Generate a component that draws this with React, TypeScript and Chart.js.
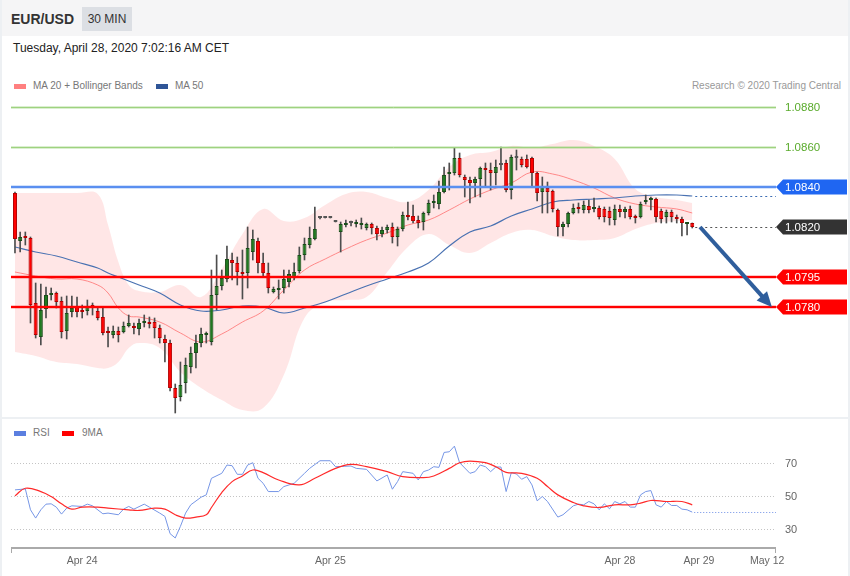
import React, { useEffect, useRef } from 'react';
import { Chart, registerables } from 'chart.js';

Chart.register(...registerables);

const FONT = 'Arial, "Liberation Sans", Helvetica, sans-serif';

// ---- 30-minute candles (EUR/USD) ----
const candleOpen = [
  1.0837, 1.0813, 1.08155, 1.08145, 1.0782, 1.0765, 1.0779, 1.0786, 1.0787, 1.0783,
  1.0768, 1.07775, 1.078, 1.0778, 1.0778, 1.0781, 1.0778, 1.0775, 1.07675, 1.0766,
  1.0768, 1.07675, 1.07705, 1.077, 1.0769, 1.0772, 1.0772, 1.07725, 1.07695, 1.0764,
  1.0762, 1.07395, 1.0735, 1.0742, 1.075, 1.0757, 1.0762, 1.0766, 1.07625, 1.0786,
  1.07905, 1.0794, 1.08035, 1.0802, 1.0797, 1.0797, 1.08075, 1.0813, 1.0802, 1.0797,
  1.07875, 1.07885, 1.07895, 1.07925, 1.0795, 1.0798, 1.0806, 1.0811, 1.0814, 1.08245,
  1.08245, 1.08245, 1.08225, 1.08175, 1.0821, 1.0822, 1.08215, 1.0821, 1.08195, 1.08215,
  1.08195, 1.08165, 1.08185, 1.082, 1.0815, 1.0819, 1.08255, 1.08255, 1.08235, 1.08225,
  1.0827, 1.0832, 1.08315, 1.08375, 1.08465, 1.0847, 1.08545, 1.0845, 1.08435, 1.0842,
  1.0844, 1.0849, 1.08485, 1.0847, 1.0851, 1.0852, 1.08385, 1.08545, 1.0854, 1.0854,
  1.08545, 1.0847, 1.08375, 1.08395, 1.0838, 1.08285, 1.082, 1.08215, 1.0827, 1.08295,
  1.08285, 1.08305, 1.0829, 1.08295, 1.0829, 1.0828, 1.08235, 1.0829, 1.08275, 1.0829,
  1.0825, 1.0825, 1.08325, 1.08335, 1.0834, 1.0828, 1.0825, 1.08275, 1.0825, 1.0824,
  1.08215, 1.0822,
];
const candleHigh = [
  1.08375, 1.08175, 1.08175, 1.0815, 1.0792, 1.07915, 1.079, 1.07895, 1.07875, 1.0785,
  1.07855, 1.07855, 1.0785, 1.0781, 1.07835, 1.0782, 1.078, 1.07795, 1.077, 1.07705,
  1.077, 1.07725, 1.0776, 1.0772, 1.0774, 1.0776, 1.0775, 1.07745, 1.0771, 1.0766,
  1.07635, 1.07415, 1.07525, 1.07545, 1.076, 1.0766, 1.07695, 1.07675, 1.07985, 1.0806,
  1.07985, 1.08105, 1.0807, 1.0805, 1.08085, 1.082, 1.08185, 1.08145, 1.0807, 1.0802,
  1.079, 1.07935, 1.07985, 1.07985, 1.0802, 1.081, 1.08145, 1.082, 1.083, 1.0825,
  1.08245, 1.08245, 1.08225, 1.08225, 1.08235, 1.0823, 1.08235, 1.08245, 1.0822, 1.0822,
  1.08205, 1.082, 1.0821, 1.0822, 1.082, 1.08275, 1.08325, 1.0831, 1.08255, 1.08275,
  1.08335, 1.0836, 1.0843, 1.085, 1.0852, 1.08595, 1.0857, 1.0846, 1.0845, 1.0845,
  1.085, 1.0852, 1.0852, 1.08535, 1.086, 1.08535, 1.0856, 1.08585, 1.0855, 1.0856,
  1.0855, 1.08475, 1.0845, 1.08425, 1.08385, 1.0829, 1.08225, 1.08275, 1.08315, 1.0832,
  1.0833, 1.08335, 1.08345, 1.08305, 1.083, 1.083, 1.0831, 1.0831, 1.083, 1.08305,
  1.0826, 1.08325, 1.0836, 1.0835, 1.08345, 1.0829, 1.08285, 1.08285, 1.0826, 1.0825,
  1.0822, 1.0822,
];
const candleLow = [
  1.0807, 1.08075, 1.0811, 1.0772, 1.07645, 1.0761, 1.07745, 1.07835, 1.07795, 1.07645,
  1.0764, 1.0775, 1.0775, 1.07745, 1.0776, 1.0776, 1.07735, 1.0766, 1.076, 1.07645,
  1.07625, 1.0767, 1.077, 1.07665, 1.0766, 1.077, 1.07695, 1.07645, 1.0762, 1.07525,
  1.0738, 1.0727, 1.0733, 1.0737, 1.0747, 1.07495, 1.076, 1.0762, 1.0761, 1.07785,
  1.07885, 1.07925, 1.07935, 1.0791, 1.0784, 1.07895, 1.08035, 1.0797, 1.0795, 1.0787,
  1.0787, 1.0784, 1.0787, 1.079, 1.07935, 1.0797, 1.08035, 1.08095, 1.08135, 1.0824,
  1.08245, 1.08245, 1.08225, 1.08075, 1.082, 1.08205, 1.082, 1.0819, 1.08185, 1.08165,
  1.08135, 1.0815, 1.0817, 1.0812, 1.08105, 1.0818, 1.08235, 1.0822, 1.08195, 1.08185,
  1.0826, 1.08295, 1.0829, 1.0837, 1.08385, 1.0846, 1.0845, 1.0835, 1.0832, 1.0835,
  1.0835, 1.084, 1.08385, 1.0841, 1.08485, 1.08375, 1.0834, 1.08485, 1.085, 1.08495,
  1.084, 1.0833, 1.0827, 1.0827, 1.08275, 1.08155, 1.08155, 1.082, 1.08265, 1.0827,
  1.0827, 1.0827, 1.08275, 1.0824, 1.08225, 1.0821, 1.0821, 1.0825, 1.08245, 1.0824,
  1.0822, 1.08245, 1.08315, 1.08285, 1.08225, 1.0822, 1.0822, 1.08225, 1.0822, 1.08155,
  1.0816, 1.08195,
];
const candleClose = [
  1.0814, 1.0815, 1.08145, 1.0781, 1.0766, 1.07785, 1.0786, 1.0787, 1.07825, 1.07675,
  1.0777, 1.07795, 1.07775, 1.07775, 1.07805, 1.07795, 1.07745, 1.0767, 1.0767, 1.0768,
  1.0766, 1.07705, 1.0772, 1.07695, 1.0772, 1.0773, 1.07715, 1.07695, 1.07645, 1.0762,
  1.07395, 1.07345, 1.0741, 1.0751, 1.0757, 1.0762, 1.07665, 1.0767, 1.0786, 1.07905,
  1.07945, 1.0804, 1.0802, 1.07975, 1.07965, 1.08095, 1.0814, 1.0802, 1.0797, 1.07895,
  1.0789, 1.07895, 1.0794, 1.07965, 1.07975, 1.0806, 1.08115, 1.08145, 1.0819, 1.08245,
  1.08245, 1.08245, 1.08225, 1.08215, 1.08215, 1.0822, 1.0822, 1.08215, 1.08215, 1.08195,
  1.08165, 1.08185, 1.082, 1.0815, 1.0819, 1.0826, 1.0825, 1.0823, 1.0822, 1.0827,
  1.0832, 1.08325, 1.08375, 1.0846, 1.0847, 1.08545, 1.0846, 1.08435, 1.0842, 1.0844,
  1.08495, 1.08485, 1.0847, 1.085, 1.0851, 1.08385, 1.0855, 1.08545, 1.0851, 1.085,
  1.0847, 1.0837, 1.084, 1.08375, 1.0829, 1.082, 1.08215, 1.0827, 1.08295, 1.0829,
  1.0831, 1.08285, 1.083, 1.0825, 1.0825, 1.08245, 1.0829, 1.08275, 1.0829, 1.0825,
  1.08245, 1.08315, 1.0833, 1.08345, 1.0825, 1.0824, 1.08275, 1.0825, 1.0824, 1.0822,
  1.0822, 1.082,
];

// ---- overlays (sampled at candle indices) ----
const bandIdx = [0, 4, 8, 12, 16, 18, 20, 22, 24, 28, 32, 36, 40, 44, 48, 52, 56, 60, 64, 68, 72, 76, 80, 84, 88, 92, 96, 100, 104, 108, 112, 116, 120, 124, 128, 131];
const bbUpper = [1.0837, 1.0837, 1.0837, 1.0837, 1.08365, 1.0821, 1.08025, 1.0791, 1.0788, 1.07875, 1.0791, 1.0785, 1.0799, 1.08165, 1.0829, 1.0823, 1.08245, 1.0831, 1.08365, 1.08375, 1.08345, 1.08325, 1.08385, 1.085, 1.0856, 1.08575, 1.08605, 1.08595, 1.08615, 1.08635, 1.08605, 1.0854, 1.0839, 1.0835, 1.08335, 1.0832];
const bbLower = [1.07575, 1.07555, 1.07525, 1.07515, 1.07495, 1.07495, 1.07525, 1.07595, 1.0762, 1.07595, 1.07475, 1.07395, 1.07335, 1.07285, 1.07295, 1.0746, 1.07745, 1.07825, 1.07835, 1.0785, 1.07975, 1.081, 1.08165, 1.0811, 1.0807, 1.0812, 1.0817, 1.08185, 1.08155, 1.08135, 1.08135, 1.08145, 1.0819, 1.0822, 1.0823, 1.08235];
const ma20Value = [1.07975, 1.07955, 1.0794, 1.0794, 1.0791, 1.0787, 1.07795, 1.07755, 1.0775, 1.07725, 1.0767, 1.07625, 1.07665, 1.07725, 1.0778, 1.07885, 1.07985, 1.0804, 1.0809, 1.08135, 1.0817, 1.0821, 1.08235, 1.08285, 1.0834, 1.08385, 1.0842, 1.08475, 1.08465, 1.08435, 1.08395, 1.08345, 1.08315, 1.083, 1.0829, 1.0827];
const ma50Value = [1.081, 1.08075, 1.08055, 1.08025, 1.07995, 1.0797, 1.0795, 1.0793, 1.0791, 1.0787, 1.0781, 1.0778, 1.07785, 1.07805, 1.078, 1.0777, 1.07795, 1.07825, 1.07865, 1.07905, 1.0794, 1.07975, 1.0802, 1.08105, 1.08175, 1.08205, 1.08255, 1.0829, 1.08325, 1.08335, 1.0834, 1.08345, 1.08355, 1.0836, 1.0836, 1.08355];

// ---- key levels ----
const resistanceLevels = [1.088, 1.086];
const pivotLevel = 1.084;
const supportLevels = [1.0795, 1.078];
const arrowFrom = [132.5, 1.082];
const arrowTo = [146.4, 1.078];

// ---- RSI panel ----
const rsiIdx = [0, 2, 3, 4, 5, 6, 7, 8, 9, 10, 11, 13, 14, 15, 17, 18, 20, 21, 22, 23, 25, 26, 28, 29, 30, 31, 32, 33, 34, 36, 37, 38, 40, 41, 42, 43, 44, 45, 46, 47, 48, 49, 51, 52, 54, 56, 57, 59, 61, 62, 65, 66, 68, 70, 72, 73, 74, 75, 77, 78, 79, 80, 81, 82, 83, 84, 85, 86, 88, 89, 90, 91, 92, 93, 94, 95, 96, 97, 98, 99, 100, 101, 102, 103, 105, 106, 108, 109, 110, 111, 112, 113, 114, 115, 116, 117, 118, 119, 120, 121, 122, 123, 124, 125, 126, 127, 128, 129, 130, 131];
const rsiValue = [53.6, 54.2, 41.6, 36.6, 41.6, 45, 45.2, 43.2, 39, 42.6, 44, 43.6, 45, 44, 39.2, 39.6, 38.6, 42, 43.6, 42, 45, 43.2, 39.6, 37.6, 27.2, 24.6, 31.6, 39.6, 44.6, 49.2, 50.6, 60.6, 63.6, 68.6, 68.2, 63, 63, 68.6, 70, 60.6, 57.6, 52.6, 52.6, 55.6, 57.6, 63.6, 66.6, 71.2, 71.2, 67.6, 68, 66.6, 66, 59, 62.6, 54, 58.6, 64.6, 63.6, 59.6, 64.6, 65.6, 67.6, 67.2, 76.2, 76.6, 80, 70, 63.6, 64.6, 68.6, 67.6, 64.6, 67.4, 67.4, 52.6, 64, 63.2, 60, 61.6, 56.6, 47, 49.6, 46.6, 37.2, 38.6, 44, 45, 44.6, 46.6, 45.2, 41.6, 45.2, 42.2, 46.6, 45.2, 46.6, 43.2, 43.2, 50.6, 52.6, 53.2, 44.6, 43.2, 46.6, 44.2, 44.2, 42, 41.6, 40.2];
const maIdx = [0, 2, 5, 7, 9, 11, 13, 16, 18, 22, 24, 27, 29, 31, 33, 35, 37, 38, 40, 42, 44, 46, 48, 51, 55, 58, 62, 65, 68, 72, 75, 79, 81, 84, 86, 88, 91, 93, 95, 98, 101, 103, 105, 108, 110, 113, 116, 119, 121, 123, 126, 129, 131];
const maValue = [50, 54.6, 52.6, 49.6, 45.2, 42, 43.2, 43.2, 42.6, 41.6, 41.2, 42.6, 42, 38.6, 36.6, 37.2, 38.6, 43, 52, 58.6, 62, 65.6, 64, 59.6, 56.6, 60.6, 66.6, 69, 67.6, 64.6, 61.6, 61, 62, 66.6, 70, 71, 70, 67.6, 64.2, 63.6, 60.6, 55.6, 50.6, 46, 44, 43, 44.6, 44.6, 45.6, 47.2, 46.6, 46.6, 44.6];
const rsiLevels = [70, 50, 30];

// ---- time axis ----
const dateTickIdx = [13, 61, 117, 132.3, 145.5];
const dateTickLabels = ['Apr 24', 'Apr 25', 'Apr 28', 'Apr 29', 'May 12'];

// axis ranges
const X_MIN = -0.77;
const X_MAX = 147.2;
const PRICE_MIN = 1.0725;
const PRICE_MAX = 1.0885;
const RSI_MIN = 18.55;
const RSI_MAX = 83.7;

const RED = '#ff0000';
const GREEN = '#1f7a1f';

function hLine(ctx: CanvasRenderingContext2D, x1: number, x2: number, y: number, color: string, width: number, dash?: number[]) {
  ctx.save();
  ctx.beginPath();
  ctx.strokeStyle = color;
  ctx.lineWidth = width;
  if (dash) ctx.setLineDash(dash);
  const yy = width % 2 === 1 ? Math.round(y) + 0.5 : Math.round(y);
  ctx.moveTo(x1, yy);
  ctx.lineTo(x2, yy);
  ctx.stroke();
  ctx.restore();
}

function tag(ctx: CanvasRenderingContext2D, x: number, y: number, color: string, text: string) {
  const w = 71;
  const h = 15;
  ctx.save();
  ctx.fillStyle = color;
  ctx.beginPath();
  ctx.moveTo(x, y);
  ctx.lineTo(x + 7, y - h / 2);
  ctx.lineTo(x + w, y - h / 2);
  ctx.lineTo(x + w, y + h / 2);
  ctx.lineTo(x + 7, y + h / 2);
  ctx.closePath();
  ctx.fill();
  ctx.fillStyle = '#ffffff';
  ctx.font = `11.5px ${FONT}`;
  ctx.textBaseline = 'middle';
  ctx.textAlign = 'left';
  ctx.fillText(text, x + 9, y + 1);
  ctx.restore();
}

const mainOverlay = {
  id: 'mainOverlay',
  afterDatasetsDraw(chart: any) {
    const { ctx, chartArea: a } = chart;
    const xs = chart.scales.x;
    const ys = chart.scales.y;
    resistanceLevels.forEach((v) => {
      const ry = ys.getPixelForValue(v);
      hLine(ctx, a.left, a.right, ry, 'rgba(150,210,120,0.35)', 3);
      hLine(ctx, a.left, a.right, ry, '#9fd27f', 1);
    });
    const py = ys.getPixelForValue(pivotLevel);
    hLine(ctx, a.left, a.right, py, 'rgba(80,140,240,0.25)', 4);
    hLine(ctx, a.left, a.right, py, '#5a8ff0', 2);
    supportLevels.forEach((v) => {
      const sy = ys.getPixelForValue(v);
      hLine(ctx, a.left, a.right, sy, 'rgba(255,0,0,0.22)', 4);
      hLine(ctx, a.left, a.right, sy, RED, 2);
    });
    const N = candleClose.length;
    const xLast = xs.getPixelForValue(N - 1);
    hLine(ctx, xLast + 3, a.right, ys.getPixelForValue(ma50Value[ma50Value.length - 1]), '#3d6db3', 1, [2, 3]);
    hLine(ctx, xLast + 3, a.right, ys.getPixelForValue(candleClose[N - 1]), '#555555', 1, [2, 3]);

    // arrow
    const x1 = xs.getPixelForValue(arrowFrom[0]);
    const y1 = ys.getPixelForValue(arrowFrom[1]);
    const x2 = xs.getPixelForValue(arrowTo[0]);
    const y2 = ys.getPixelForValue(arrowTo[1]);
    const ang = Math.atan2(y2 - y1, x2 - x1);
    const headLen = 15;
    const headW = 7;
    const bx = x2 - headLen * Math.cos(ang);
    const by = y2 - headLen * Math.sin(ang);
    ctx.save();
    ctx.strokeStyle = '#2f5e9c';
    ctx.fillStyle = '#2f5e9c';
    ctx.lineWidth = 4;
    ctx.beginPath();
    ctx.moveTo(x1, y1);
    ctx.lineTo(bx + 2 * Math.cos(ang), by + 2 * Math.sin(ang));
    ctx.stroke();
    ctx.beginPath();
    ctx.moveTo(x2, y2);
    ctx.lineTo(bx + headW * Math.sin(ang), by - headW * Math.cos(ang));
    ctx.lineTo(bx - headW * Math.sin(ang), by + headW * Math.cos(ang));
    ctx.closePath();
    ctx.fill();
    ctx.restore();
  },
  afterDraw(chart: any) {
    const { ctx, chartArea: a } = chart;
    const ys = chart.scales.y;
    ctx.save();
    ctx.font = `11.5px ${FONT}`;
    ctx.fillStyle = '#5aab2c';
    ctx.textBaseline = 'middle';
    ctx.textAlign = 'left';
    resistanceLevels.forEach((v) => ctx.fillText(v.toFixed(4), a.right + 9, ys.getPixelForValue(v) + 1));
    ctx.restore();
    tag(ctx, a.right, ys.getPixelForValue(pivotLevel), '#1f66f2', pivotLevel.toFixed(4));
    const last = candleClose[candleClose.length - 1];
    tag(ctx, a.right, ys.getPixelForValue(last), '#333333', last.toFixed(4));
    supportLevels.forEach((v) => tag(ctx, a.right, ys.getPixelForValue(v), RED, v.toFixed(4)));
  },
};

const rsiOverlay = {
  id: 'rsiOverlay',
  beforeDatasetsDraw(chart: any) {
    const { ctx, chartArea: a } = chart;
    const ys = chart.scales.y;
    rsiLevels.forEach((v) => hLine(ctx, a.left, a.right, ys.getPixelForValue(v), '#c4c4c4', 1, [1, 2]));
  },
  afterDatasetsDraw(chart: any) {
    const { ctx, chartArea: a } = chart;
    const xs = chart.scales.x;
    const ys = chart.scales.y;
    const lastIdx = rsiIdx[rsiIdx.length - 1];
    hLine(ctx, xs.getPixelForValue(lastIdx) + 2, a.right, ys.getPixelForValue(rsiValue[rsiValue.length - 1]), '#6d8fe6', 1, [1, 2]);
  },
  afterDraw(chart: any) {
    const { ctx, chartArea: a } = chart;
    const xs = chart.scales.x;
    const ys = chart.scales.y;
    ctx.save();
    ctx.font = `11px ${FONT}`;
    ctx.fillStyle = '#666666';
    ctx.textBaseline = 'middle';
    ctx.textAlign = 'left';
    rsiLevels.forEach((v) => ctx.fillText(String(v), a.right + 9, ys.getPixelForValue(v) + 1));
    // time axis
    ctx.strokeStyle = '#aaaaaa';
    ctx.lineWidth = 2;
    ctx.beginPath();
    ctx.moveTo(a.left, a.bottom);
    ctx.lineTo(a.right, a.bottom);
    ctx.stroke();
    ctx.lineWidth = 1;
    ctx.beginPath();
    ctx.moveTo(a.left + 0.5, a.bottom);
    ctx.lineTo(a.left + 0.5, a.bottom + 5);
    ctx.moveTo(a.right - 0.5, a.bottom);
    ctx.lineTo(a.right - 0.5, a.bottom + 5);
    ctx.stroke();
    ctx.font = `10.5px ${FONT}`;
    ctx.textAlign = 'center';
    ctx.fillStyle = '#666666';
    dateTickIdx.forEach((t, k) => ctx.fillText(dateTickLabels[k], xs.getPixelForValue(t), a.bottom + 13));
    ctx.restore();
  },
};

function pts(xsArr: number[], ysArr: number[]) {
  return xsArr.map((x, k) => ({ x, y: ysArr[k] }));
}

export default function App() {
  const mainRef = useRef<HTMLCanvasElement>(null);
  const rsiRef = useRef<HTMLCanvasElement>(null);

  useEffect(() => {
    const idx = candleOpen.map((_, i) => i);
    const wickData = idx.map((i) => ({ x: i, y: [candleLow[i], candleHigh[i]] }));
    const bodyData = idx.map((i) => ({ x: i, y: [candleOpen[i], candleClose[i]] }));
    const bodyFill = idx.map((i) => (candleClose[i] > candleOpen[i] ? GREEN : candleClose[i] < candleOpen[i] ? RED : '#555555'));
    const bodyBorder = idx.map((i) => (candleClose[i] > candleOpen[i] ? '#1a4d1a' : candleClose[i] < candleOpen[i] ? '#b30000' : '#555555'));

    const main = new Chart(mainRef.current as HTMLCanvasElement, {
      type: 'bar',
      data: {
        datasets: [
          {
            type: 'line',
            data: pts(bandIdx, bbUpper),
            borderWidth: 0,
            borderColor: 'rgba(0,0,0,0)',
            backgroundColor: 'rgba(255,214,214,0.62)',
            fill: '+1',
            pointRadius: 0,
            tension: 0.4,
            order: 10,
          } as any,
          {
            type: 'line',
            data: pts(bandIdx, bbLower),
            borderWidth: 0,
            borderColor: 'rgba(0,0,0,0)',
            fill: false,
            pointRadius: 0,
            tension: 0.4,
            order: 9,
          } as any,
          {
            type: 'line',
            data: pts(bandIdx, ma20Value),
            borderWidth: 1,
            borderColor: 'rgba(255,120,120,0.85)',
            fill: false,
            pointRadius: 0,
            tension: 0.4,
            order: 5,
          } as any,
          {
            type: 'line',
            data: pts(bandIdx, ma50Value),
            borderWidth: 1.2,
            borderColor: '#4a72b2',
            fill: false,
            pointRadius: 0,
            tension: 0.4,
            order: 4,
          } as any,
          {
            type: 'bar',
            data: wickData,
            backgroundColor: '#4d4d4d',
            barThickness: 1,
            minBarLength: 1,
            grouped: false,
            borderWidth: 0,
            order: 2,
          } as any,
          {
            type: 'bar',
            data: bodyData,
            backgroundColor: bodyFill,
            borderColor: bodyBorder,
            borderWidth: 1,
            borderSkipped: false,
            barThickness: 4,
            minBarLength: 2,
            grouped: false,
            inflateAmount: 0,
            order: 1,
          } as any,
        ],
      },
      options: {
        animation: false,
        responsive: false,
        events: [],
        layout: { padding: { left: 11, right: 74, top: 97, bottom: 159 } },
        plugins: { legend: { display: false }, tooltip: { enabled: false }, title: { display: false } },
        scales: {
          x: { type: 'linear', min: X_MIN, max: X_MAX, offset: false, display: false },
          y: { type: 'linear', min: PRICE_MIN, max: PRICE_MAX, display: false },
        },
      },
      plugins: [mainOverlay],
    } as any);

    const rsi = new Chart(rsiRef.current as HTMLCanvasElement, {
      type: 'line',
      data: {
        datasets: [
          {
            data: pts(maIdx, maValue),
            borderColor: '#ff2a2a',
            borderWidth: 1.2,
            pointRadius: 0,
            tension: 0.4,
            fill: false,
          },
          {
            data: pts(rsiIdx, rsiValue),
            borderColor: '#7696e6',
            borderWidth: 1,
            pointRadius: 0,
            tension: 0,
            fill: false,
          },
        ],
      },
      options: {
        animation: false,
        responsive: false,
        events: [],
        layout: { padding: { left: 11, right: 74, top: 440, bottom: 28 } },
        plugins: { legend: { display: false }, tooltip: { enabled: false } },
        scales: {
          x: { type: 'linear', min: X_MIN, max: X_MAX, display: false },
          y: { type: 'linear', min: RSI_MIN, max: RSI_MAX, display: false },
        },
      },
      plugins: [rsiOverlay],
    } as any);

    return () => {
      main.destroy();
      rsi.destroy();
    };
  }, []);

  const abs = (s: React.CSSProperties): React.CSSProperties => ({ position: 'absolute', ...s });

  return (
    <div style={abs({ left: 0, top: 0, width: 850, height: 576, background: '#ffffff', fontFamily: FONT, overflow: 'hidden' })}>
      <div style={abs({ left: 0, top: 0, width: 850, height: 36, background: '#f5f5f6' })} />
      <div style={abs({ left: 0, top: 0, width: 2, height: 576, background: '#edf0f3' })} />
      <div style={abs({ left: 848, top: 0, width: 2, height: 576, background: '#edf0f3' })} />
      <div style={abs({ left: 11, top: 11, fontSize: 14, fontWeight: 'bold', color: '#333333', lineHeight: '16px', whiteSpace: 'nowrap' })}>EUR/USD</div>
      <div style={abs({ left: 82, top: 7, width: 50, height: 24, background: '#dcdfe4', fontSize: 12, color: '#333333', lineHeight: '24px', textAlign: 'center', whiteSpace: 'nowrap' })}>30 MIN</div>
      <div style={abs({ left: 13, top: 41, fontSize: 12, color: '#222222', lineHeight: '14px', whiteSpace: 'nowrap' })}>Tuesday, April 28, 2020 7:02:16 AM CET</div>

      <div style={abs({ left: 14, top: 84, width: 12, height: 5, background: '#ff8080' })} />
      <div style={abs({ left: 33, top: 80, fontSize: 10, color: '#777777', lineHeight: '12px', whiteSpace: 'nowrap' })}>MA 20 + Bollinger Bands</div>
      <div style={abs({ left: 156, top: 84, width: 12, height: 5, background: '#2f5597' })} />
      <div style={abs({ left: 175, top: 80, fontSize: 10, color: '#777777', lineHeight: '12px', whiteSpace: 'nowrap' })}>MA 50</div>
      <div style={abs({ left: 600, width: 241, top: 80, fontSize: 10, color: '#999999', lineHeight: '12px', textAlign: 'right', whiteSpace: 'nowrap' })}>Research © 2020 Trading Central</div>

      <div style={abs({ left: 0, top: 417, width: 850, height: 2, background: '#edf0f3' })} />

      <div style={abs({ left: 14, top: 431, width: 12, height: 5, background: '#5b7fe0' })} />
      <div style={abs({ left: 33, top: 427, fontSize: 10, color: '#777777', lineHeight: '12px', whiteSpace: 'nowrap' })}>RSI</div>
      <div style={abs({ left: 62, top: 431, width: 12, height: 5, background: '#ff0000' })} />
      <div style={abs({ left: 82, top: 427, fontSize: 10, color: '#777777', lineHeight: '12px', whiteSpace: 'nowrap' })}>9MA</div>

      <canvas ref={mainRef} width={850} height={576} style={abs({ left: 0, top: 0, width: 850, height: 576 })} />
      <canvas ref={rsiRef} width={850} height={576} style={abs({ left: 0, top: 0, width: 850, height: 576 })} />
    </div>
  );
}
